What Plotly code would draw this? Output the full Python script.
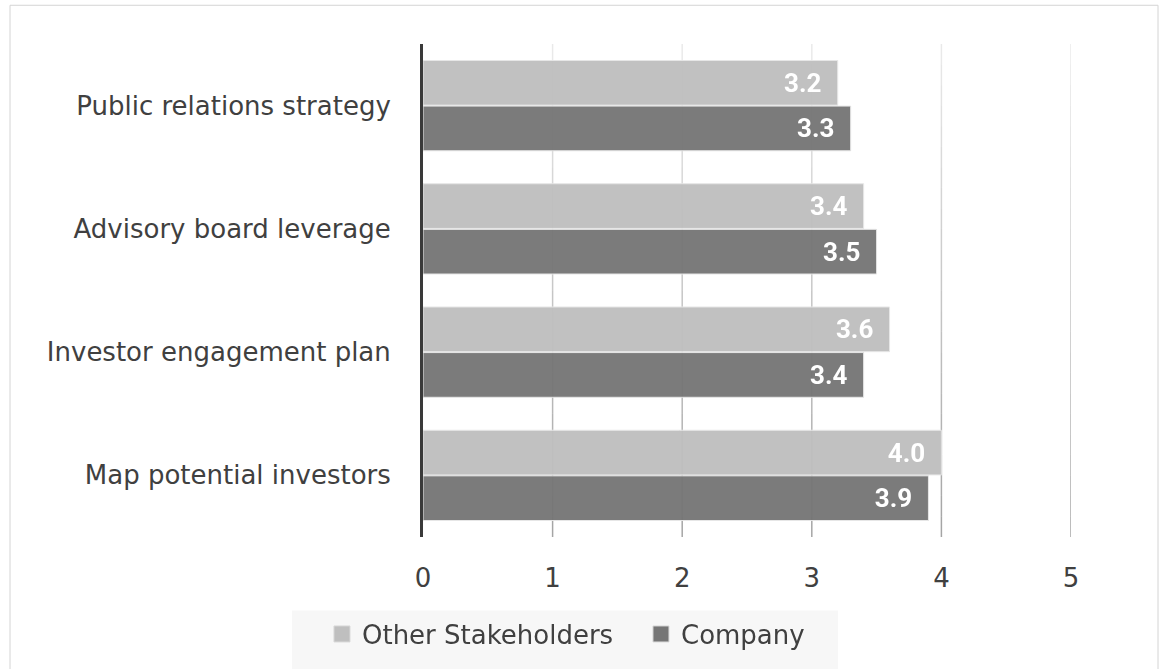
import plotly.graph_objects as go

categories = [
    "Public relations strategy",
    "Advisory board leverage",
    "Investor engagement plan",
    "Map potential investors",
]
other_stakeholders = [3.2, 3.4, 3.6, 4.0]
company = [3.3, 3.5, 3.4, 3.9]
x_ticks = [0, 1, 2, 3, 4, 5]

LIGHT = "#bfbfbf"
DARK = "#767676"
TEXT = "#404040"
FONT = "DejaVu Sans"

series = [
    ("Other Stakeholders", other_stakeholders, LIGHT),
    ("Company", company, DARK),
]

fig = go.Figure()
for name, vals, color in series:
    fig.add_trace(go.Bar(
        y=categories, x=vals, name=name, orientation="h",
        marker=dict(color=color, line=dict(color="#e6e6e6", width=1)),
        opacity=0.96, showlegend=False,
        text=[f"{v:.1f}\u2002" for v in vals],
        textposition="inside", insidetextanchor="end",
        textfont=dict(family="Roboto", size=26, color="white", weight="bold"),
        cliponaxis=False,
    ))

# legend entries with larger square swatches
for name, vals, color in series:
    fig.add_trace(go.Scatter(
        x=[None], y=[None], mode="markers", name=name,
        marker=dict(symbol="square", size=16, color=color,
                    line=dict(color="#d8d8d8", width=1)),
    ))

# vertical grid lines, fading from light at the top to darker at the bottom
shapes = []
n_seg = 24
for t in x_ticks[1:]:
    for i in range(n_seg):
        y0 = i / n_seg
        y1 = (i + 1) / n_seg
        alpha = 0.36 - 0.28 * (i + 0.5) / n_seg
        shapes.append(dict(
            type="line", xref="x", yref="paper", x0=t, x1=t, y0=y0, y1=y1,
            line=dict(color=f"rgba(0,0,0,{alpha:.3f})", width=1.5), layer="below",
        ))

# outer frame
shapes.append(dict(
    type="rect", xref="paper", yref="paper",
    x0=-0.6373, x1=1.1343, y0=-0.30, y1=1.0786,
    line=dict(color="#d4d4d4", width=1), layer="below",
))
# legend panel
shapes.append(dict(
    type="rect", xref="paper", yref="paper",
    x0=-0.2022, x1=0.6404, y0=-0.29, y1=-0.1492,
    fillcolor="#f7f7f7", line=dict(width=0), layer="below",
))

fig.update_layout(
    width=1166, height=669,
    margin=dict(l=423, r=95, t=44, b=129),
    paper_bgcolor="white", plot_bgcolor="white",
    barmode="group", bargap=0.26, bargroupgap=0.02,
    font=dict(family=FONT, size=26, color=TEXT),
    shapes=shapes,
    showlegend=True,
    legend=dict(
        orientation="h", x=-0.1559, xanchor="left", y=-0.1492, yanchor="top",
        bgcolor="rgba(0,0,0,0)", font=dict(family=FONT, size=26, color=TEXT),
        traceorder="normal", itemwidth=30, entrywidth=274,
    ),
    xaxis=dict(
        range=[0, 5], tickvals=x_ticks, showgrid=False, zeroline=False,
        showline=False, ticks="", ticklabelstandoff=23,
        tickfont=dict(family=FONT, size=26, color=TEXT),
    ),
    yaxis=dict(
        autorange="reversed", showgrid=False, zeroline=False,
        showline=True, linecolor="#3a3a3a", linewidth=3,
        ticks="", ticklabelstandoff=24,
        tickfont=dict(family=FONT, size=26, color=TEXT),
    ),
)

fig.write_html("out.html")
